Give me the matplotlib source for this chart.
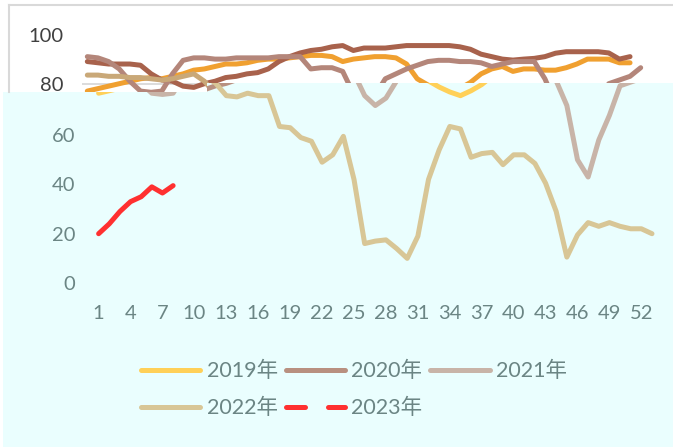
import matplotlib.pyplot as plt
from matplotlib.patches import Polygon
from matplotlib.lines import Line2D

# --- data (weekly values) ---
weeks_52 = list(range(1, 53))
weeks_53 = list(range(1, 54))
weeks_2023 = list(range(1, 9))

v2019 = [77, 78, 79, 80, 81, 82, 82.5, 82, 83, 84,
         85.5, 86, 87, 88, 88, 88.5, 89.5, 90, 90, 90.5,
         91, 91.5, 91.5, 91, 89, 90, 90.5, 91, 91, 90.5,
         88, 82, 79.5, 77.5, 76, 78, 80.5, 84, 86, 87,
         85, 86, 86, 85.5, 85.5, 86.5, 88, 90, 90, 90,
         88.5, 88.5]
v2020 = [89, 88.5, 88, 88, 88, 87.5, 84, 81.5, 81, 79,
         78.5, 80, 81, 82.5, 83, 84, 84.5, 86, 89, 91,
         92.5, 93.5, 94, 95, 95.5, 93.5, 94.5, 94.5, 94.5, 95,
         95.5, 95.5, 95.5, 95.5, 95.5, 95, 94, 92, 91, 90,
         89.6, 90, 90.3, 91, 92.4, 93, 93, 93, 93, 92.5,
         90, 91]
v2021 = [91, 90.5, 89, 86, 81, 77, 76.5, 77, 84, 89.5,
         90.5, 90.5, 90, 90, 90.5, 90.5, 90.5, 90.5, 91, 91,
         91, 86, 86.5, 86.5, 85, 76, 72, 75, 82, 84,
         86, 87.5, 89, 89.5, 89.5, 89, 89, 88.5, 87, 88,
         89, 89, 89, 82, 72, 50, 43, 58, 68, 80,
         81.5, 83, 86.5]
v2022 = [83.5, 83.5, 83, 83, 82.5, 82.5, 82, 81.5, 82, 83,
         84, 81, 76, 75.5, 77, 76, 76, 63.5, 63, 59,
         57.5, 49, 52, 59.5, 42, 16, 17, 17.5, 14, 10,
         19, 42, 54, 63.5, 62.5, 51, 52.5, 53, 48, 52,
         52, 48.5, 40.5, 29, 10.5, 19.5, 24.5, 23, 24.5, 23,
         22, 22, 20]
v2023 = [20, 24, 29, 33, 35, 39, 36.5, 39.5]

labels = ["2019年", "2020年", "2021年", "2022年", "2023年"]
series = [(weeks_52, v2019), (weeks_52, v2020), (weeks_53, v2021),
          (weeks_53, v2022), (weeks_2023, v2023)]
colors_top = ["#F0A030", "#A8624C", "#B4867A", "#C9A878", "#FF3030"]
colors_low = ["#FFD058", "#B89080", "#C8B4A8", "#D8C696", "#FF3030"]

W, H = 673, 447
TEAL = "#6B8584"
FS = 14.5


def fx(px):
    return px / W


def fy(py):
    return 1 - py / H


plt.rcParams['font.family'] = ['Lato', 'Noto Sans CJK SC']

fig = plt.figure(figsize=(6.73, 4.47), dpi=100)
fig.patch.set_facecolor("white")

# two zones of the picture: white top band and pale cyan lower part
low_pts = [(3, 92), (207, 92), (207, 83), (673, 83), (673, 447), (3, 447)]
top_pts = [(0, 0), (673, 0), (673, 83), (207, 83), (207, 92), (0, 92)]
fig.add_artist(Polygon([(fx(x), fy(y)) for x, y in low_pts], closed=True,
                       transform=fig.transFigure, facecolor="#EAFEFE",
                       edgecolor="none", zorder=-1))
clip_low = Polygon([(fx(x), fy(y)) for x, y in low_pts], closed=True,
                   transform=fig.transFigure)
clip_top = Polygon([(fx(x), fy(y)) for x, y in top_pts], closed=True,
                   transform=fig.transFigure)

# chart frame (only visible in the top band)
fig.add_artist(Line2D([fx(9), fx(673)], [fy(5), fy(5)], color="#D9D9D9",
                      lw=1.5, transform=fig.transFigure))
fig.add_artist(Line2D([fx(9), fx(9)], [fy(5), fy(92)], color="#D9D9D9",
                      lw=1.5, transform=fig.transFigure))

ax_top = fig.add_axes([fx(82), fy(280.5), 564 / W, 246 / H])
ax_low = fig.add_axes([fx(93.3), fy(283), 564 / W, 246.5 / H])

for ax in (ax_top, ax_low):
    ax.set_facecolor("none")
    ax.set_xlim(0.5, 53.5)
    ax.set_ylim(0, 100)
    for s in ax.spines.values():
        s.set_visible(False)
    ax.tick_params(length=0)

# top band
for yv in (80, 100):
    g = ax_top.axhline(yv, color="#D9D9D9", lw=1.3, zorder=1)
    g.set_clip_path(clip_top)
for (x, y), c in zip(series, colors_top):
    ln, = ax_top.plot(x, y, color=c, lw=3.6, solid_capstyle="round",
                      solid_joinstyle="round", zorder=2)
    ln.set_clip_path(clip_top)
ax_top.set_xticks([])
ax_top.set_yticks([80, 100])
ax_top.tick_params(axis="y", labelsize=FS, labelcolor="#404040", pad=13.5)

# lower part
for (x, y), c in zip(series, colors_low):
    ln, = ax_low.plot(x, y, color=c, lw=3.6, solid_capstyle="round",
                      solid_joinstyle="round", zorder=2)
    ln.set_clip_path(clip_low)
ax_low.set_yticks([0, 20, 40, 60])
ax_low.set_xticks(list(range(1, 53, 3)))
ax_low.tick_params(axis="y", labelsize=FS, labelcolor=TEAL, pad=13)
ax_low.tick_params(axis="x", labelsize=FS, labelcolor=TEAL, pad=16)

# legend (row-major order like the original)
handles = []
for i, c in enumerate(colors_low):
    if i == 4:
        h = Line2D([], [], color=c, lw=3.6, dash_capstyle="round",
                   dashes=(3.8, 4.6))
    else:
        h = Line2D([], [], color=c, lw=3.6, solid_capstyle="round")
    handles.append(h)
order = [0, 3, 1, 4, 2]
fig.legend([handles[i] for i in order], [labels[i] for i in order],
           ncol=3, loc="upper left", bbox_to_anchor=(fx(141), fy(361)),
           frameon=False, fontsize=15.5, labelcolor=TEAL, handlelength=2.75,
           handletextpad=0.3, columnspacing=0.37, labelspacing=0.78,
           borderpad=0, borderaxespad=0)

fig.savefig("out.png", dpi=100)
